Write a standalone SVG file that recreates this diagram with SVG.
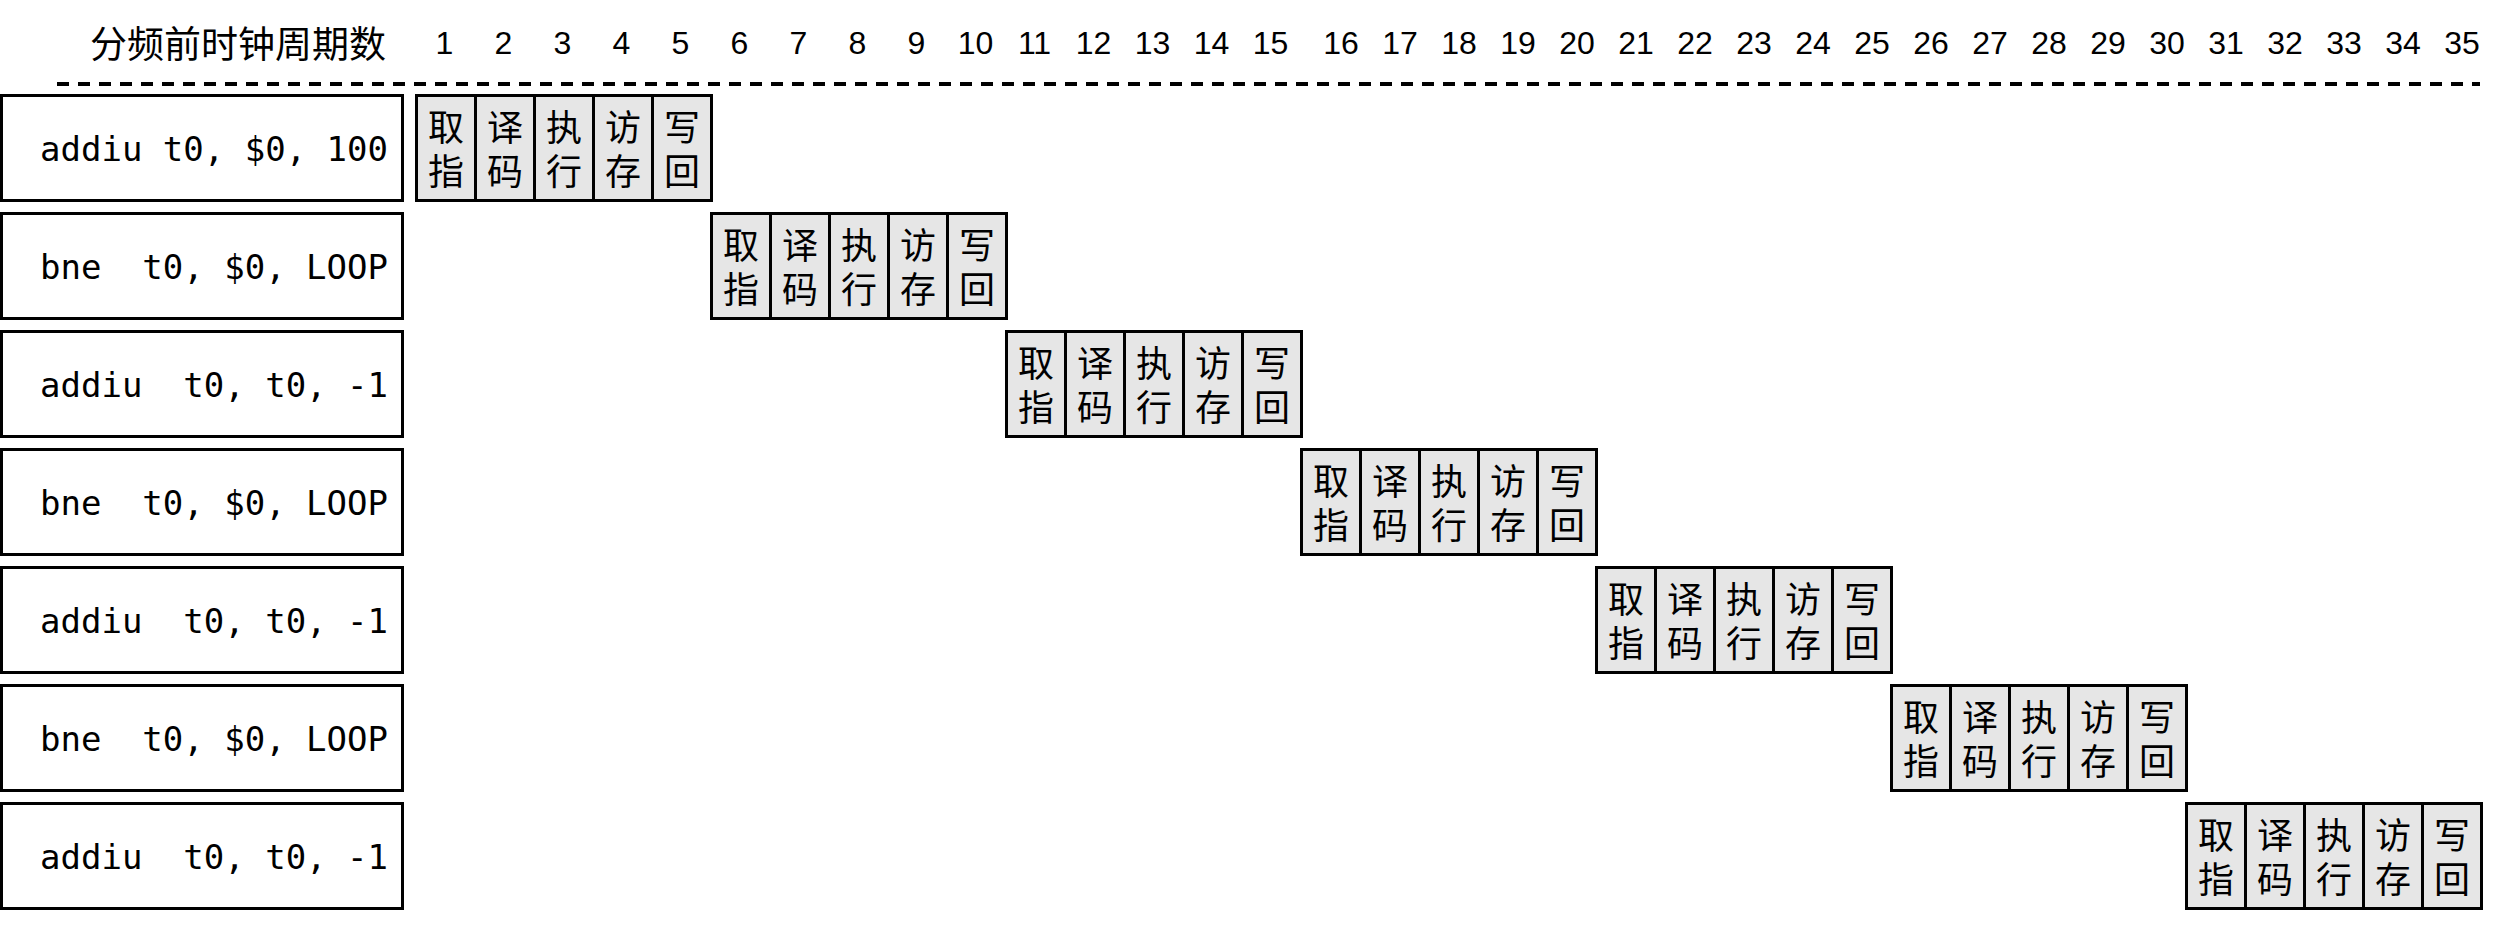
<svg xmlns="http://www.w3.org/2000/svg" width="2506" height="925" viewBox="0 0 2506 925">
<style>
.bg{fill:#ffffff}
.ins{fill:#ffffff;stroke:#000;stroke-width:3}
.itxt{font-family:"DejaVu Sans Mono","Liberation Mono",monospace;font-size:34px;fill:#000}
.cell{fill:#e6e6e6;stroke:#000;stroke-width:3}
.ctxt{font-family:"Noto Sans CJK SC","Noto Sans",sans-serif;font-size:36px;fill:#000;text-anchor:middle}
.title{font-family:"Noto Sans CJK SC","Noto Sans",sans-serif;font-size:37px;fill:#000}
.num{font-family:"Liberation Sans","Noto Sans CJK SC",sans-serif;font-size:32px;fill:#000;text-anchor:middle}
.sep{stroke:#000;stroke-width:4;stroke-dasharray:12 9;fill:none}
</style>
<defs>
<g id="stages">
<rect class="cell" x="0" y="0" width="59" height="105"/>
<rect class="cell" x="59" y="0" width="59" height="105"/>
<rect class="cell" x="118" y="0" width="59" height="105"/>
<rect class="cell" x="177" y="0" width="59" height="105"/>
<rect class="cell" x="236" y="0" width="59" height="105"/>
<text class="ctxt" x="29.5" y="45">取</text><text class="ctxt" x="29.5" y="89">指</text>
<text class="ctxt" x="88.5" y="45">译</text><text class="ctxt" x="88.5" y="89">码</text>
<text class="ctxt" x="147.5" y="45">执</text><text class="ctxt" x="147.5" y="89">行</text>
<text class="ctxt" x="206.5" y="45">访</text><text class="ctxt" x="206.5" y="89">存</text>
<text class="ctxt" x="265.5" y="45">写</text><text class="ctxt" x="265.5" y="89">回</text>
</g>
</defs>
<rect class="bg" x="0" y="0" width="2506" height="925"/>
<g id="header">
<text class="title" x="90" y="58">分频前时钟周期数</text>
<text class="num" y="54"><tspan x="444.5">1</tspan><tspan x="503.5">2</tspan><tspan x="562.5">3</tspan><tspan x="621.5">4</tspan><tspan x="680.5">5</tspan><tspan x="739.5">6</tspan><tspan x="798.5">7</tspan><tspan x="857.5">8</tspan><tspan x="916.5">9</tspan><tspan x="975.5">10</tspan><tspan x="1034.5">11</tspan><tspan x="1093.5">12</tspan><tspan x="1152.5">13</tspan><tspan x="1211.5">14</tspan><tspan x="1270.5">15</tspan><tspan x="1341">16</tspan><tspan x="1400">17</tspan><tspan x="1459">18</tspan><tspan x="1518">19</tspan><tspan x="1577">20</tspan><tspan x="1636">21</tspan><tspan x="1695">22</tspan><tspan x="1754">23</tspan><tspan x="1813">24</tspan><tspan x="1872">25</tspan><tspan x="1931">26</tspan><tspan x="1990">27</tspan><tspan x="2049">28</tspan><tspan x="2108">29</tspan><tspan x="2167">30</tspan><tspan x="2226">31</tspan><tspan x="2285">32</tspan><tspan x="2344">33</tspan><tspan x="2403">34</tspan><tspan x="2462">35</tspan></text>
</g>
<g id="connectors">
<line class="sep" x1="57" y1="84" x2="2480" y2="84"/>
</g>
<g id="instr1"><rect class="ins" x="1.5" y="95.5" width="401" height="105"/><text class="itxt" x="40" y="161" xml:space="preserve">addiu t0, $0, 100</text></g>
<g id="instr2"><rect class="ins" x="1.5" y="213.5" width="401" height="105"/><text class="itxt" x="40" y="279" xml:space="preserve">bne  t0, $0, LOOP</text></g>
<g id="instr3"><rect class="ins" x="1.5" y="331.5" width="401" height="105"/><text class="itxt" x="40" y="397" xml:space="preserve">addiu  t0, t0, -1</text></g>
<g id="instr4"><rect class="ins" x="1.5" y="449.5" width="401" height="105"/><text class="itxt" x="40" y="515" xml:space="preserve">bne  t0, $0, LOOP</text></g>
<g id="instr5"><rect class="ins" x="1.5" y="567.5" width="401" height="105"/><text class="itxt" x="40" y="633" xml:space="preserve">addiu  t0, t0, -1</text></g>
<g id="instr6"><rect class="ins" x="1.5" y="685.5" width="401" height="105"/><text class="itxt" x="40" y="751" xml:space="preserve">bne  t0, $0, LOOP</text></g>
<g id="instr7"><rect class="ins" x="1.5" y="803.5" width="401" height="105"/><text class="itxt" x="40" y="869" xml:space="preserve">addiu  t0, t0, -1</text></g>
<g id="pipe1" transform="translate(416.5,95.5)"><use href="#stages"/></g>
<g id="pipe2" transform="translate(711.5,213.5)"><use href="#stages"/></g>
<g id="pipe3" transform="translate(1006.5,331.5)"><use href="#stages"/></g>
<g id="pipe4" transform="translate(1301.5,449.5)"><use href="#stages"/></g>
<g id="pipe5" transform="translate(1596.5,567.5)"><use href="#stages"/></g>
<g id="pipe6" transform="translate(1891.5,685.5)"><use href="#stages"/></g>
<g id="pipe7" transform="translate(2186.5,803.5)"><use href="#stages"/></g>
</svg>
